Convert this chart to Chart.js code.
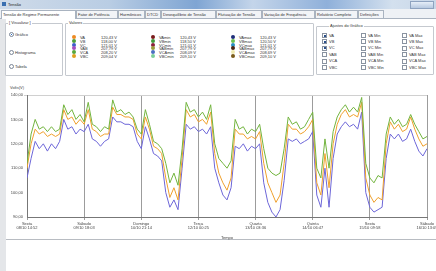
<!DOCTYPE html>
<html>
<head>
<meta charset="utf-8">
<script src="https://cdn.jsdelivr.net/npm/chart.js@4"></script>
<style>
  body { margin: 0; width: 436px; height: 271px; overflow: hidden; background: #fff;
         font-family: "Liberation Sans", Arial, sans-serif; font-size: 4px; color: #333; position: relative; }
  .abs { position: absolute; white-space: nowrap; }
  #titlebar { left: 0; top: 0; width: 436px; height: 9px;
    background: linear-gradient(to right, #cfdbe9 0%, #b9cde4 25%, #7fa5d3 45%, #c4d5ea 58%, #8fb0da 75%, #d3e0ee 90%, #c9d7e8 100%); }
  #tabs { left: 0; top: 9px; width: 436px; height: 9px; background: #eef1f5; border-bottom: 1px solid #a9b3c0; }
  .tab { top: 10px; height: 7px; line-height: 7px; border: 1px solid #a9b3c0; border-bottom: none; background: #f2f4f7;
         padding: 0 1px; font-size: 4px; overflow: hidden; }
  .tab.sel { background: #fff; height: 8px; }
  #leftband { left: 0; top: 19px; width: 6px; height: 252px; background: #e4e6e9; }
  .group { border: 1px solid #c5c9cf; border-radius: 1px; }
  .gt { background: #fff; padding: 0 1px; font-size: 4px; }
  .radio { width: 3px; height: 3px; border: 1px solid #7a8596; border-radius: 50%; background: #fff; }
  .radio.on::after { content: ""; position: absolute; left: 1px; top: 1px; width: 1px; height: 1px; background: #2a6ec8; }
  .dot { width: 4px; height: 4px; border-radius: 50%; }
  .cb { width: 3px; height: 3px; border: 1px solid #8a93a0; background: #fff; }
  .cb.on::after { content: ""; position: absolute; left: 0.5px; top: 0.5px; width: 2px; height: 2px; background: #2b4f8a; }
  #sep { left: 6px; top: 239px; width: 430px; height: 1px; background: #b8bcc2; }
</style>
</head>
<body>
<div id="titlebar" class="abs"></div>
<div class="abs" style="left:2px;top:2px;width:4px;height:4px;background:#3a6fb0;"></div>
<div class="abs" style="left:8px;top:2px;font-size:4px;color:#222;">Tensão</div>
<div class="abs" style="left:410px;top:1px;width:22px;height:6px;background:linear-gradient(#e6eef8,#b7c9e0);border:1px solid #8ea3c0;"></div>
<div id="tabs" class="abs"></div>
<div id="leftband" class="abs"></div>
<div id="ui"></div>
<div class="abs" style="left:10px;top:85px;font-size:4px;color:#444;">Volts(V)</div>
<div id="sep" class="abs"></div>
<canvas id="chart" class="abs" width="440" height="158" style="left:0;top:82px;width:440px;height:158px;"></canvas>

<script>
// tabs and panel texts
const tabNames = ['Tensão de Regime Permanente', 'Fator de Potência', 'Harmônicos', 'DTCD', 'Desequilíbrio de Tensão',
  'Flutuação de Tensão', 'Variação de Frequência', 'Relatório Completo', 'Definições'];
const viewOptions = ['Gráfico', 'Histograma', 'Tabela'];
const valueNames = [
  ['VA', 'VB', 'VC', 'VAB', 'VCA', 'VBC'],
  ['VAmin', 'VBmin', 'VCmin', 'VABmin', 'VCAmin', 'VBCmin'],
  ['VAmax', 'VBmax', 'VCmax', 'VABmax', 'VCAmax', 'VBCmax']
];
const valueReadings = [
  ['120,43 V', '118,00 V', '121,01 V', '207,79 V', '208,20 V', '209,04 V'],
  ['120,43 V', '118,50 V', '121,01 V', '207,79 V', '208,09 V', '209,10 V'],
  ['120,43 V', '120,50 V', '121,01 V', '207,79 V', '208,69 V', '209,10 V']
];
const valueColors = [
  ['#ee8a22', '#4f9f3a', '#3f5fc8', '#a24fc0', '#58a83c', '#e0a020'],
  ['#7a1a1a', '#3f9a3a', '#8a1f3a', '#9a9a3a', '#4a6fc0', '#7ccf9a'],
  ['#1e2e7a', '#6cc050', '#2a8fc0', '#4a2412', '#f0eab0', '#7a5a1a']
];
const checkNames = [
  ['VA', 'VB', 'VC', 'VAB', 'VCA', 'VBC'],
  ['VA Min', 'VB Min', 'VC Min', 'VAB Min', 'VCA Min', 'VBC Min'],
  ['VA Max', 'VB Max', 'VC Max', 'VAB Max', 'VCA Max', 'VBC Max']
];

// chart data (one point per step, 14 steps between date ticks)
const tickLabels = [
  ['Sexta', '08/10 14:52'], ['Sábado', '09/10 18:03'], ['Domingo', '10/10 21:14'], ['Terça', '12/10 00:25'],
  ['Quarta', '13/10 03:36'], ['Quinta', '14/10 06:47'], ['Sexta', '15/10 09:58'], ['Sábado', '16/10 13:09']
];
const vbValues = [112,124,130,126,127,125,127,125,126,136,132,134,130,132,129,137,128,127,125,127,
  126,138,133,134,132,133,131,126,124,134,128,121,120,118,112,104,108,103,118,137,
  133,134,131,133,130,136,120,114,112,110,113,130,126,127,124,126,125,128,118,110,
  108,107,108,118,131,128,129,126,127,130,133,110,106,122,110,125,131,134,136,133,
  135,133,139,112,106,104,107,106,124,131,128,130,127,128,132,128,125,122,123];
const vaValues = [110,120,126,124,125,123,124,123,124,134,130,131,128,130,128,134,126,125,123,124,
  124,135,132,132,131,131,130,124,122,131,126,119,118,116,106,98,102,97,114,134,
  131,132,129,130,128,133,116,108,104,101,106,126,124,124,122,123,122,125,112,104,
  100,96,99,112,128,126,126,124,125,127,130,104,99,116,102,120,128,132,134,131,
  132,131,137,106,99,96,98,97,120,129,126,128,125,126,131,126,122,119,120];
const vcValues = [106,114,121,118,120,117,120,118,121,130,126,127,124,126,125,128,122,121,119,121,
  122,131,129,129,128,128,127,121,118,127,122,116,115,113,100,94,97,93,110,128,
  126,127,125,126,124,127,110,104,99,97,102,119,118,120,117,119,118,120,104,96,
  92,90,93,105,122,121,122,120,121,122,125,99,94,110,94,114,124,127,129,127,
  128,126,133,100,94,92,93,94,114,124,122,124,121,122,126,121,117,115,118];

function el(cls, left, top, html, style) {
  const d = document.createElement('div');
  d.className = 'abs ' + cls;
  d.style.left = left + 'px';
  d.style.top = top + 'px';
  if (style) d.style.cssText += style;
  if (html) d.textContent = html;
  document.getElementById('ui').appendChild(d);
  return d;
}

// tab strip
const tabX = [1, 76, 118, 145, 161, 216, 262, 315, 358, 384];
tabNames.forEach((t, i) => {
  el('tab' + (i === 0 ? ' sel' : ''), tabX[i], 10, t, 'width:' + (tabX[i + 1] - tabX[i] - 4) + 'px;');
});

// Visualizar group
el('group', 5, 23, '', 'width:56px;height:51px;');
el('gt', 8, 20, '[ Visualizar ]');
viewOptions.forEach((t, i) => {
  const y = [32, 50, 64][i];
  el('radio' + (i === 0 ? ' on' : ''), 9, y);
  el('', 15, y - 0.5, t);
});

// Valores group
el('group', 65, 23, '', 'width:247px;height:51px;');
el('gt', 68, 20, 'Valores');
const colX = [72, 151, 231];
valueNames.forEach((col, c) => {
  col.forEach((name, r) => {
    const y = 35 + r * 3.8;
    el('dot', colX[c], y, '', 'background:' + valueColors[c][r] + ';');
    el('', colX[c] + 8, y, name);
    el('', colX[c] + 29, y, valueReadings[c][r]);
  });
});

// Ajustes do Gráfico group
el('group', 316, 26, '', 'width:116px;height:47px;');
el('gt', 329, 23, 'Ajustes do Gráfico');
const cbX = [322, 361, 402];
checkNames.forEach((col, c) => {
  col.forEach((name, r) => {
    const y = 33 + r * 6.4;
    el('cb' + (c === 0 && r < 3 ? ' on' : ''), cbX[c], y);
    el('', cbX[c] + 7, y - 0.5, name);
  });
});

// chart
const fmt = v => v.toFixed(2).replace('.', ',');
const toPoints = arr => arr.map((v, i) => ({ x: i, y: v }));

new Chart(document.getElementById('chart'), {
  type: 'line',
  data: {
    datasets: [
      { label: 'VB', data: toPoints(vbValues), borderColor: '#72b43e' },
      { label: 'VA', data: toPoints(vaValues), borderColor: '#efa02c' },
      { label: 'VC', data: toPoints(vcValues), borderColor: '#6d66d8' }
    ]
  },
  options: {
    responsive: false,
    animation: false,
    layout: { padding: { top: 13, right: 13, left: 0, bottom: 0 } },
    elements: { point: { radius: 0 }, line: { borderWidth: 1, tension: 0 } },
    plugins: { legend: { display: false }, tooltip: { enabled: false } },
    scales: {
      x: {
        type: 'linear', min: 0, max: 98,
        ticks: {
          stepSize: 14, maxRotation: 0, autoSkip: false, padding: 1,
          color: '#444', font: { size: 4, family: 'Liberation Sans' },
          callback: v => tickLabels[Math.round(v / 14)]
        },
        grid: { color: '#9c9c9c', lineWidth: 1, tickLength: 3 },
        border: { color: '#777' },
        title: { display: true, text: 'Tempo', color: '#444', padding: 0, font: { size: 4, family: 'Liberation Sans' } },
        afterFit: s => { s.height = 23; }
      },
      y: {
        min: 90, max: 140,
        ticks: {
          stepSize: 10, padding: 1, color: '#444', font: { size: 4, family: 'Liberation Sans' },
          callback: v => fmt(v)
        },
        grid: { color: c => c.tick && c.tick.value === 140 ? '#d0d0d0' : 'rgba(0,0,0,0)', tickLength: 3, drawOnChartArea: true },
        border: { color: '#777' },
        afterFit: s => { s.width = 27; }
      }
    }
  }
});
</script>
</body>
</html>
